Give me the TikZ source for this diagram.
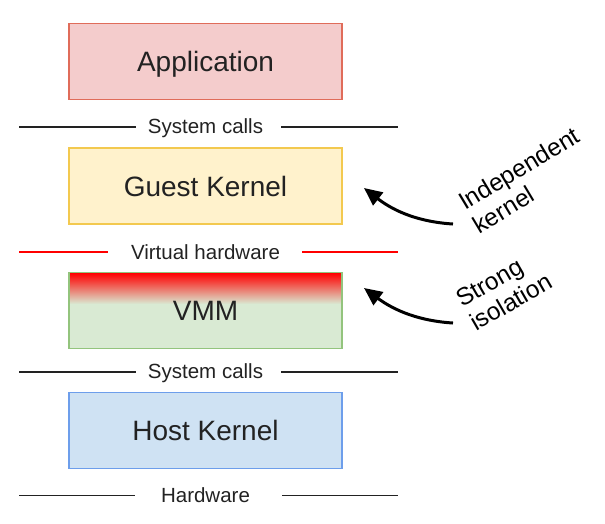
\documentclass[tikz,border=0pt]{standalone}
\usepackage{fontspec}
\setmainfont{Liberation Sans}
\usetikzlibrary{arrows.meta}
\definecolor{appfill}{HTML}{F4CCCC}
\definecolor{appdraw}{HTML}{E06C5A}
\definecolor{gkfill}{HTML}{FFF2CC}
\definecolor{gkdraw}{HTML}{F3C94F}
\definecolor{vmmfill}{HTML}{D9EAD3}
\definecolor{vmmdraw}{HTML}{93C47D}
\definecolor{hkfill}{HTML}{CFE2F3}
\definecolor{hkdraw}{HTML}{6D9EEB}
\definecolor{txt}{HTML}{222222}
\tikzset{
  layerbox/.style={minimum width=273pt, minimum height=76pt, inner sep=0pt, line width=1.3pt,
    font=\fontsize{28}{32}\selectfont, text=txt, text height=20pt, text depth=0pt},
  layerlabel/.style={font=\fontsize{20.5}{24}\selectfont, text=txt, inner sep=0pt,
    text height=14.7pt, text depth=0pt},
  sepline/.style={line width=1.4pt, draw=txt},
  redline/.style={line width=2.6pt, draw=red},
  sidenote/.style={font=\fontsize{24.5}{27.5}\selectfont, text=black, align=left, inner sep=0pt},
  curvearrow/.style={line width=3pt, -{Triangle[length=18pt,width=16pt]}},
}
\begin{document}
\begin{tikzpicture}[x=1pt,y=-1pt]
\useasboundingbox (0,0) rectangle (605,523);
% boxes
\node (app) [layerbox, fill=appfill, draw=appdraw] at (205.5,61.5) {Application};
\node (gk) [layerbox, fill=gkfill, draw=gkdraw] at (205.5,186) {Guest Kernel};
\node (vmm) [layerbox, fill=vmmfill, draw=vmmdraw,
  path picture={\foreach \k in {0,...,31} {
      \pgfmathsetmacro\pct{100-\k*100/31}
      \fill[red!\pct!vmmfill] ([yshift=-\k pt]path picture bounding box.north west)
        rectangle ([yshift=-\k pt-1.3pt]path picture bounding box.north east);}}]
  at (205.5,310.5) {VMM};
\node (hk) [layerbox, fill=hkfill, draw=hkdraw] at (205.5,430.5) {Host Kernel};
% layer labels
\node (sc1) [layerlabel] at (205.5,126) {System calls};
\node (vh) [layerlabel] at (205.5,252) {Virtual hardware};
\node (sc2) [layerlabel] at (205.5,371.5) {System calls};
\node (hw) [layerlabel] at (205.5,495.5) {Hardware};
% separator line ends
\coordinate (sc1a) at (19,127); \coordinate (sc1b) at (136,127);
\coordinate (sc1c) at (281,127); \coordinate (sc1d) at (398,127);
\coordinate (vha) at (19,252); \coordinate (vhb) at (108,252);
\coordinate (vhc) at (302,252); \coordinate (vhd) at (398,252);
\coordinate (sc2a) at (19,372); \coordinate (sc2b) at (136,372);
\coordinate (sc2c) at (281,372); \coordinate (sc2d) at (398,372);
\coordinate (hwa) at (19,495.5); \coordinate (hwb) at (135,495.5);
\coordinate (hwc) at (282,495.5); \coordinate (hwd) at (398,495.5);
\draw[sepline] (sc1a) -- (sc1b); \draw[sepline] (sc1c) -- (sc1d);
\draw[redline] (vha) -- (vhb); \draw[redline] (vhc) -- (vhd);
\draw[sepline] (sc2a) -- (sc2b); \draw[sepline] (sc2c) -- (sc2d);
\draw[sepline] (hwa) -- (hwb); \draw[sepline] (hwc) -- (hwd);
% side notes
\node (ik) [sidenote, rotate=31] at (526,180) {Independent\\kernel};
\node (si) [sidenote, rotate=30] at (504,290) {Strong\\isolation};
\coordinate (ikt) at (453,224); \coordinate (ikh) at (364,188);
\coordinate (sit) at (453,323); \coordinate (sih) at (364,288);
\draw[curvearrow] (ikt) .. controls (420,222) and (395,212) .. (ikh);
\draw[curvearrow] (sit) .. controls (420,321) and (395,311) .. (sih);
\end{tikzpicture}
\end{document}
